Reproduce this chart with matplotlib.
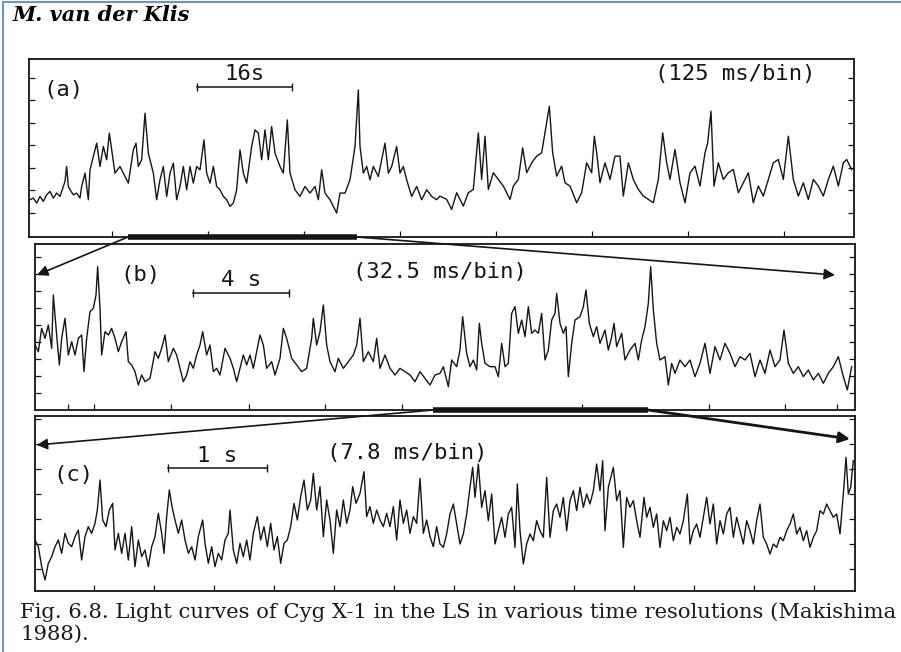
import numpy as np
import matplotlib
matplotlib.use("Agg")
import matplotlib.pyplot as plt
from matplotlib.lines import Line2D

# Light curves of Cyg X-1 (time and rate in arbitrary units)
t_a = [90, 100, 110, 120, 130, 140, 150, 160, 170, 180, 195, 200, 205, 210, 220, 230, 240, 245, 255, 265,
       270, 280, 290, 300, 310, 320, 328, 335, 345, 360, 375, 385, 400, 408, 415, 425, 435, 445, 460, 470,
       480, 490, 500, 510, 520, 530, 540, 550, 560, 570, 580, 590, 600, 612, 620, 630, 640, 650, 660, 670,
       680, 690, 700, 710, 720, 730, 740, 755, 765, 775, 785, 795, 805, 815, 825, 840, 850, 862, 870, 885,
       900, 915, 930, 945, 955, 965, 975, 990, 1000, 1010, 1020, 1035, 1050, 1065, 1075, 1080, 1090, 1100,
       1110, 1120, 1135, 1145, 1155, 1165, 1175, 1190, 1200, 1210, 1220, 1235, 1250, 1265, 1280, 1295, 1310,
       1320, 1340, 1355, 1370, 1390, 1405, 1420, 1435, 1445, 1455, 1465, 1480, 1495, 1510, 1530, 1540, 1555,
       1568, 1580, 1595, 1610, 1625, 1638, 1648, 1658, 1670, 1685, 1695, 1710, 1730, 1745, 1760, 1775, 1783,
       1790, 1800, 1815, 1830, 1845, 1860, 1870, 1885, 1900, 1915, 1930, 1945, 1960, 1975, 1988, 2000, 2010,
       2025, 2040, 2055, 2070, 2085, 2100, 2115, 2123, 2133, 2142, 2155, 2170, 2185, 2200, 2215, 2230, 2245,
       2260, 2275, 2290, 2305, 2320, 2335, 2350, 2365, 2380, 2395, 2410, 2425, 2440, 2455, 2470, 2485, 2500,
       2515, 2530, 2540, 2555]
rate_a = [112, 117, 102, 122, 107, 127, 137, 117, 132, 122, 167, 212, 152, 142, 127, 132, 117, 152, 192, 112,
          202, 242, 282, 212, 272, 232, 312, 262, 192, 212, 182, 162, 262, 282, 212, 232, 372, 252, 192, 112,
          172, 212, 122, 192, 222, 112, 152, 212, 142, 212, 162, 212, 202, 292, 192, 162, 212, 152, 142, 122,
          112, 92, 102, 142, 262, 192, 162, 272, 322, 312, 232, 322, 232, 332, 252, 212, 192, 352, 192, 142,
          122, 152, 132, 152, 112, 202, 132, 112, 92, 72, 132, 132, 172, 272, 442, 272, 192, 212,
          172, 212, 182, 232, 282, 192, 212, 272, 192, 212, 172, 122, 152, 112, 142, 122, 112,
          123, 113, 83, 133, 93, 133, 143, 313, 173, 303, 143, 193, 173, 153, 113, 153, 173,
          268, 193, 223, 243, 253, 333, 393, 253, 183, 213, 163, 153, 103, 133, 223, 193, 303,
          253, 163, 223, 173, 243, 243, 123, 223, 173, 143, 123, 113, 103, 173, 313, 223, 173,
          263, 163, 103, 193, 213, 153, 253, 283, 378, 153, 223, 173, 193, 203, 133, 163, 193,
          103, 153, 123, 173, 223, 233, 173, 303, 173, 123, 163, 113, 173, 153, 123, 173, 213,
          153, 223, 233, 203]

t_b = [105, 115, 125, 135, 145, 155, 160, 170, 178, 185, 195, 205, 215, 225, 235, 245, 252, 260, 270, 280,
       288, 293, 300, 305, 315, 325, 335, 345, 355, 365, 378, 385, 395, 405, 415, 425, 435, 450, 465, 475,
       485, 495, 505, 520, 530, 540, 550, 560, 570, 580, 590, 600, 608, 620, 630, 640, 650, 660, 675, 690,
       700, 710, 720, 730, 740, 750, 760, 770, 780, 790, 800, 815, 825, 840, 850, 860, 875, 890, 905, 920,
       935, 940, 950, 960, 970, 980, 990, 1005, 1015, 1030, 1045, 1060, 1070, 1080, 1090, 1105, 1120, 1130,
       1140, 1155, 1170, 1185, 1200, 1215, 1230, 1245, 1260, 1275, 1290, 1305,
       1320, 1330, 1345, 1355, 1370, 1380, 1388, 1400, 1410, 1420, 1430, 1438, 1445, 1455, 1470, 1485, 1495,
       1505, 1515, 1525, 1535, 1545, 1555, 1565, 1575, 1585, 1595, 1605, 1615, 1625, 1635, 1645, 1655, 1665,
       1670, 1680, 1690, 1698, 1705, 1715, 1725, 1740, 1750, 1758, 1768, 1780, 1790, 1800, 1815, 1825, 1835,
       1842, 1850, 1865, 1875, 1890, 1905, 1915, 1925, 1935, 1945, 1952, 1960, 1970, 1980, 1995, 2005, 2015,
       2025, 2040, 2055, 2070, 2085, 2100, 2115, 2130, 2145, 2160, 2175, 2190, 2205, 2220, 2235, 2250, 2265,
       2280, 2295, 2310, 2325, 2340, 2352, 2365, 2380, 2395, 2410, 2425, 2440, 2455, 2470, 2485, 2500, 2515,
       2530, 2542, 2555]
rate_b = [195, 175, 245, 215, 255, 185, 345, 225, 135, 215, 275, 165, 205, 165, 215, 225, 115, 215, 295, 305,
          345, 430, 305, 165, 235, 225, 245, 215, 175, 205, 235, 145, 135, 115, 75, 105, 85, 95, 175, 155,
          185, 225, 145, 185, 165, 125, 85, 105, 145, 125, 165, 195, 235, 165, 195, 115, 125, 105, 185, 155,
          125, 85, 125, 165, 135, 165, 125, 175, 225, 195, 125, 145, 105, 155, 245, 215, 155, 135, 115, 125,
          215, 275, 195, 235, 315, 195, 145, 115, 155, 125, 145, 165, 195, 275, 145, 175, 145, 215,
          125, 165, 125, 105, 125, 115, 105, 85, 115, 95, 75, 105,
          110, 130, 70, 150, 130, 180, 280, 170, 130, 150, 120, 260, 200, 140, 130, 130, 100,
          200, 130, 140, 290, 310, 230, 270, 220, 310, 230, 240, 230, 290, 150, 180, 270, 290,
          350, 260, 230, 250, 100, 200, 270, 280, 310, 360, 260, 220, 250, 200, 240, 180, 220,
          260, 190, 230, 150, 180, 200, 150, 210, 250, 320, 430, 300, 200, 150, 160, 75, 140,
          110, 150, 130, 150, 100, 140, 200, 110, 190, 150, 200, 170, 130, 160, 150, 170, 100,
          150, 110, 180, 130, 150, 240, 140, 110, 130, 100, 120, 90, 110, 80, 110, 130, 160,
          100, 60, 130]

t_c = [105, 115, 125, 135, 145, 155, 165, 175, 185, 195, 205, 215, 225, 235, 245, 255, 265, 275, 285, 292,
       300, 308, 318, 328, 338, 345, 355, 365, 375, 385, 395, 405, 415, 425, 435, 445, 455, 465, 475, 485,
       492, 500, 508, 516, 525, 535, 545, 555, 565, 575, 585, 595, 608, 615, 625, 635, 645, 655, 665, 675,
       685, 690, 700, 710, 720, 730, 740, 750, 760, 772, 782, 792, 802, 812, 822, 832, 842, 852, 862, 872,
       882, 892, 902, 912, 922, 932, 940, 950, 960, 970, 980, 990, 1000, 1010, 1020, 1030, 1040, 1050, 1058,
       1068, 1080, 1092, 1100, 1110, 1120, 1130, 1140, 1150, 1160, 1170, 1180, 1190, 1200, 1210, 1220, 1230,
       1240, 1250, 1260, 1270, 1280, 1290, 1300, 1310,
       1320, 1330, 1340, 1350, 1360, 1370, 1380, 1390, 1400, 1410, 1418, 1425, 1435, 1445, 1455, 1465, 1475,
       1485, 1495, 1505, 1515, 1525, 1535, 1545, 1552, 1560, 1570, 1580, 1590, 1600, 1610, 1620, 1630, 1640,
       1650, 1660, 1670, 1680, 1690, 1700, 1710, 1720, 1730, 1740, 1750, 1760, 1770, 1780, 1790, 1800, 1808,
       1815, 1825, 1840, 1850, 1860, 1870, 1880, 1890, 1900, 1910, 1920, 1932, 1940, 1950, 1960, 1970, 1980,
       1990, 2000, 2010, 2020, 2030, 2040, 2050, 2062, 2070, 2080, 2090, 2100, 2110, 2120, 2130, 2140, 2150,
       2160, 2170, 2180, 2190, 2200, 2210, 2220, 2230, 2240, 2250, 2260, 2270, 2280, 2290, 2300, 2310, 2320,
       2330, 2340, 2350, 2360, 2370, 2380, 2390, 2400, 2410, 2420, 2430, 2440, 2450, 2460, 2470, 2480, 2490,
       2500, 2510, 2520, 2530, 2538, 2545, 2552, 2560]
rate_c = [153, 133, 73, 33, 83, 103, 133, 153, 113, 173, 143, 133, 163, 183, 93, 163, 193, 173, 203, 243,
          333, 213, 193, 243, 263, 123, 173, 113, 173, 93, 193, 73, 153, 103, 123, 73, 133, 163, 233, 173,
          113, 223, 303, 253, 213, 173, 213, 153, 113, 133, 93, 163, 213, 143, 83, 133, 73, 113, 93, 153,
          173, 243, 123, 83, 143, 103, 153, 93, 173, 223, 153, 193, 133, 203, 123, 163, 83, 143, 153, 193,
          263, 213, 283, 333, 243, 273, 353, 243, 313, 163, 273, 213, 113, 243, 193, 273, 203, 243, 313,
          263, 293, 358, 223, 253, 203, 243, 213, 193, 233, 193, 253, 153, 273, 203, 243, 173, 223, 203,
          338, 173, 213, 163, 133, 193,
          141, 131, 171, 231, 261, 201, 141, 171, 231, 311, 371, 281, 381, 251, 301, 211, 291,
          141, 181, 221, 161, 231, 251, 131, 321, 181, 81, 141, 171, 151, 211, 181, 161, 341,
          161, 241, 261, 221, 281, 181, 271, 301, 241, 311, 251, 291, 261, 301, 381, 301, 391,
          181, 311, 371, 271, 301, 131, 281, 251, 271, 211, 161, 281, 221, 251, 191, 231, 131,
          211, 181, 221, 151, 191, 171, 211, 291, 141, 181, 201, 161, 221, 281, 201, 261, 141,
          211, 171, 231, 251, 161, 221, 181, 141, 211, 181, 141, 211, 261, 161, 141, 111, 141,
          131, 161, 151, 181, 201, 231, 171, 191, 151, 181, 131, 161, 181, 241, 231, 261, 241,
          221, 231, 171, 291, 401, 291, 311, 391]

# zoom ranges (time span of the next panel), scale bars and labels
span_b_in_a = (384, 1071)
span_c_in_b = (1299, 1944)
bar_a, bar_b, bar_c = (591, 876), (580, 868), (503, 800)
bar_labels = ["16s", "4 s", "1 s"]
panel_labels = ["(a)", "(b)", "(c)"]
bin_labels = ["(125 ms/bin)", "(32.5 ms/bin)", "(7.8 ms/bin)"]

W, H = 901, 652
fig = plt.figure(figsize=(W / 100, H / 100), dpi=100)
ink = "#151515"


def box(x0, y0, x1, y1):
    return fig.add_axes([x0 / W, 1 - y1 / H, (x1 - x0) / W, (y1 - y0) / H])


ax_a = box(29, 59, 854, 237)
ax_b = box(35, 244, 855, 410)
ax_c = box(35, 416, 855, 591)

setup = [
    (ax_a, t_a, rate_a, (87, 2562), 535, np.arange(336, 2562, 288), np.arange(73, 535, 67.5)),
    (ax_b, t_b, rate_b, (105, 2565), 498, [205, 282, 512, 748, 975, 1205, 1745, 2128, 2355, 2510],
     np.arange(50, 498, 51)),
    (ax_c, t_c, rate_c, (105, 2565), 525, np.arange(283, 2565, 180), np.arange(66, 525, 75)),
]
for ax, t, r, xl, ytop, xt, yt in setup:
    ax.plot(t, r, color=ink, lw=1.0)
    ax.set_xlim(*xl)
    ax.set_ylim(0, ytop)
    ax.set_xticks(xt)
    ax.set_yticks(yt)
    ax.tick_params(direction="in", length=4, width=0.9, color=ink, right=True, top=False,
                   labelleft=False, labelbottom=False)
    for s in ax.spines.values():
        s.set_color(ink)
        s.set_linewidth(1.3)

mono = "DejaVu Sans Mono"
fs = 16

# panel (a)
ax_a.text(130, 442, panel_labels[0], family=mono, fontsize=fs, va="center", color=ink)
ax_a.plot(bar_a, [450, 450], color=ink, lw=1.1, marker="|", ms=6)
ax_a.text(np.mean(bar_a), 490, bar_labels[0], family=mono, fontsize=fs, ha="center", va="center", color=ink)
ax_a.text(1965, 490, bin_labels[0], family=mono, fontsize=fs, va="center", color=ink)

# panel (b)
ax_b.text(360, 405, panel_labels[1], family=mono, fontsize=fs, va="center", color=ink)
ax_b.plot(bar_b, [352, 352], color=ink, lw=1.1, marker="|", ms=6)
ax_b.text(np.mean(bar_b), 390, bar_labels[1], family=mono, fontsize=fs, ha="center", va="center", color=ink)
ax_b.text(1060, 415, bin_labels[1], family=mono, fontsize=fs, va="center", color=ink)

# panel (c)
ax_c.text(160, 348, panel_labels[2], family=mono, fontsize=fs, va="center", color=ink)
ax_c.plot(bar_c, [368, 368], color=ink, lw=1.1, marker="|", ms=6)
ax_c.text(np.mean(bar_c), 405, bar_labels[2], family=mono, fontsize=fs, ha="center", va="center", color=ink)
ax_c.text(980, 413, bin_labels[2], family=mono, fontsize=fs, va="center", color=ink)

# zoom markers and arrows
ax_a.plot(span_b_in_a, [0, 0], color=ink, lw=4, solid_capstyle="butt", clip_on=False)
ax_b.plot(span_c_in_b, [0, 0], color=ink, lw=4, solid_capstyle="butt", clip_on=False)

arrows = [
    (ax_a, (span_b_in_a[0], 0), ax_b, (111, 405), 1.2),
    (ax_a, (span_b_in_a[1], 0), ax_b, (2505, 405), 1.2),
    (ax_b, (span_c_in_b[0], 0), ax_c, (110, 438), 1.2),
    (ax_b, (span_c_in_b[1], 0), ax_c, (2550, 456), 2.0),
]
for src, p0, dst, p1, lw in arrows:
    dst.annotate("", xy=p1, xycoords="data", xytext=p0, textcoords=src.transData,
                 annotation_clip=False,
                 arrowprops=dict(arrowstyle="-|>", color=ink, lw=lw, shrinkA=0, shrinkB=0,
                                 mutation_scale=16))

# page header / caption
fig.text(13 / W, 1 - 15 / H, "M. van der Klis", family="DejaVu Serif", weight="bold", style="italic",
         fontsize=15, va="center", color="black")
fig.text(20 / W, 1 - 612 / H,
         "Fig. 6.8. Light curves of Cyg X-1 in the LS in various time resolutions (Makishima",
         family="DejaVu Serif", fontsize=15.2, va="center", color="#1a1a1a")
fig.text(20 / W, 1 - 634 / H, "1988).", family="DejaVu Serif", fontsize=15.2, va="center", color="#1a1a1a")

# blue frame of the screenshot
blue = "#6a94d4"
fig.add_artist(Line2D([3 / W, 3 / W], [0, 1 - 2 / H], transform=fig.transFigure, color=blue, lw=1.5))
fig.add_artist(Line2D([3 / W, 1], [1 - 2 / H, 1 - 2 / H], transform=fig.transFigure, color=blue, lw=1.5))

fig.savefig("out.png", dpi=100)
